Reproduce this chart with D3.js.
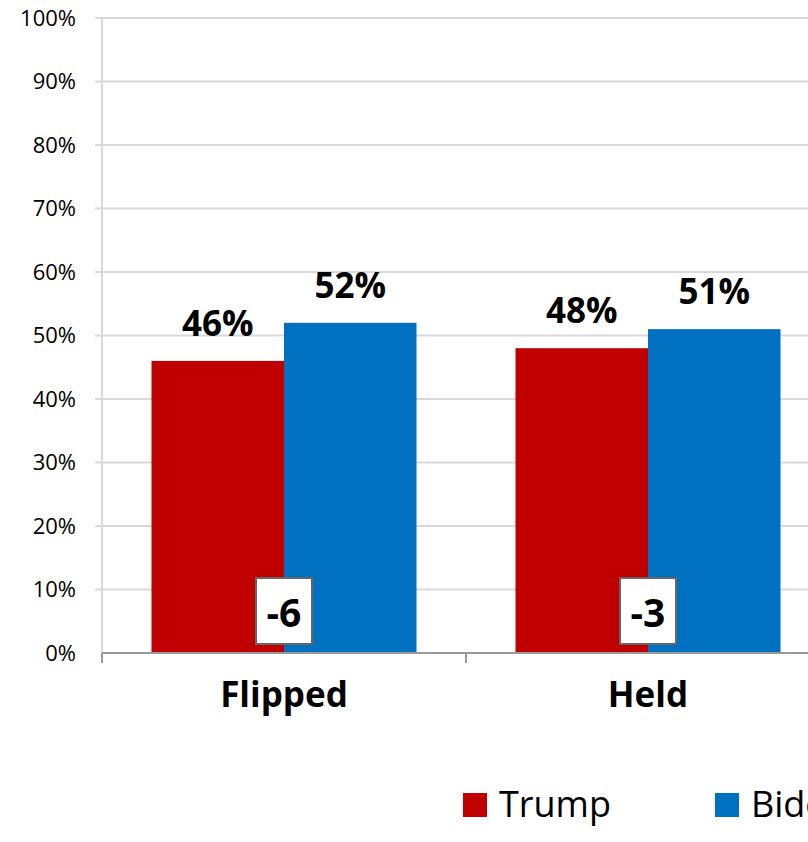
<!DOCTYPE html>
<html><head><meta charset="utf-8">
<script src="https://cdn.jsdelivr.net/npm/d3@7"></script>
<style>html,body{margin:0;padding:0;background:#fff;overflow:hidden}svg{display:block}</style>
</head><body>
<svg id="chart" width="808" height="842"></svg>
<script>
const categories = ["Flipped", "Held"];
const seriesNames = ["Trump", "Biden"];
const trumpValues = [46, 48];
const bidenValues = [52, 51];
const diffValues = ["-6", "-3"];
const yTicks = [0, 10, 20, 30, 40, 50, 60, 70, 80, 90, 100];
const colors = ["#C00000", "#0070C0"];

(function () {
const svg = d3.select("#chart");
const W = 808;
const plotLeft = 102, plotTop = 18, plotBottom = 653;
const bandW = 364;
const font = "'Open Sans', sans-serif";

const y = d3.scaleLinear().domain([0, 100]).range([plotBottom, plotTop]);
const x0 = d3.scaleBand().domain(categories).range([plotLeft, plotLeft + bandW * categories.length]);
const x1 = d3.scaleBand().domain(seriesNames).range([49.5, 314.5]);

// gridlines
svg.append("g").selectAll("line").data(yTicks.filter(d => d > 0)).join("line")
  .attr("x1", plotLeft - 7).attr("x2", W).attr("y1", d => y(d)).attr("y2", d => y(d))
  .attr("stroke", "#d9d9d9").attr("stroke-width", 2);
// vertical axis line
svg.append("line").attr("x1", plotLeft).attr("x2", plotLeft).attr("y1", plotTop).attr("y2", plotBottom)
  .attr("stroke", "#d9d9d9").attr("stroke-width", 2);
// y tick labels
svg.append("g").selectAll("text").data(yTicks).join("text")
  .attr("x", 76).attr("y", d => y(d)).attr("dy", "0.36em")
  .attr("text-anchor", "end").attr("font-family", font).attr("font-size", 22).attr("fill", "#000")
  .text(d => d + "%");

// bars
const data = categories.map((c, i) => ({ cat: c, vals: [trumpValues[i], bidenValues[i]], diff: diffValues[i] }));
const groups = svg.append("g").selectAll("g").data(data).join("g")
  .attr("transform", d => `translate(${x0(d.cat)},0)`);
groups.selectAll("rect").data(d => d.vals.map((v, j) => ({ s: seriesNames[j], v, j }))).join("rect")
  .attr("x", d => x1(d.s)).attr("width", x1.bandwidth())
  .attr("y", d => y(d.v)).attr("height", d => y(0) - y(d.v))
  .attr("fill", d => colors[d.j]);
groups.selectAll("text.val").data(d => d.vals.map((v, j) => ({ s: seriesNames[j], v, j }))).join("text")
  .attr("class", "val")
  .attr("x", d => x1(d.s) + x1.bandwidth() / 2).attr("y", d => y(d.v) - 25)
  .attr("text-anchor", "middle").attr("font-family", font).attr("font-weight", "bold")
  .attr("font-size", 35).attr("fill", "#000").text(d => d.v + "%");

// diff boxes
groups.append("rect")
  .attr("x", bandW / 2 - 28).attr("y", 578).attr("width", 56).attr("height", 66)
  .attr("fill", "#fff").attr("stroke", "#666").attr("stroke-width", 2);
groups.append("text")
  .attr("x", bandW / 2).attr("y", 627).attr("text-anchor", "middle")
  .attr("font-family", font).attr("font-weight", "bold").attr("font-size", 39).attr("fill", "#000")
  .text(d => d.diff);

// x axis
svg.append("line").attr("x1", plotLeft).attr("x2", W).attr("y1", plotBottom).attr("y2", plotBottom)
  .attr("stroke", "#999").attr("stroke-width", 2);
svg.append("g").selectAll("line").data(d3.range(categories.length + 1)).join("line")
  .attr("x1", i => plotLeft + i * bandW).attr("x2", i => plotLeft + i * bandW)
  .attr("y1", plotBottom).attr("y2", plotBottom + 10).attr("stroke", "#999").attr("stroke-width", 2);
svg.append("g").selectAll("text").data(categories).join("text")
  .attr("x", d => x0(d) + bandW / 2).attr("y", 707).attr("text-anchor", "middle")
  .attr("font-family", font).attr("font-weight", "bold").attr("font-size", 35).attr("fill", "#000")
  .text(d => d);

// legend
const leg = svg.append("g").selectAll("g").data(seriesNames).join("g")
  .attr("transform", (d, i) => `translate(${463 + i * 252},793)`);
leg.append("rect").attr("width", 24).attr("height", 24).attr("fill", (d, i) => colors[i]);
leg.append("text").attr("x", 36).attr("y", 24).attr("font-family", font).attr("font-size", 36)
  .attr("fill", "#000").text(d => d);
})();
</script>
</body></html>
